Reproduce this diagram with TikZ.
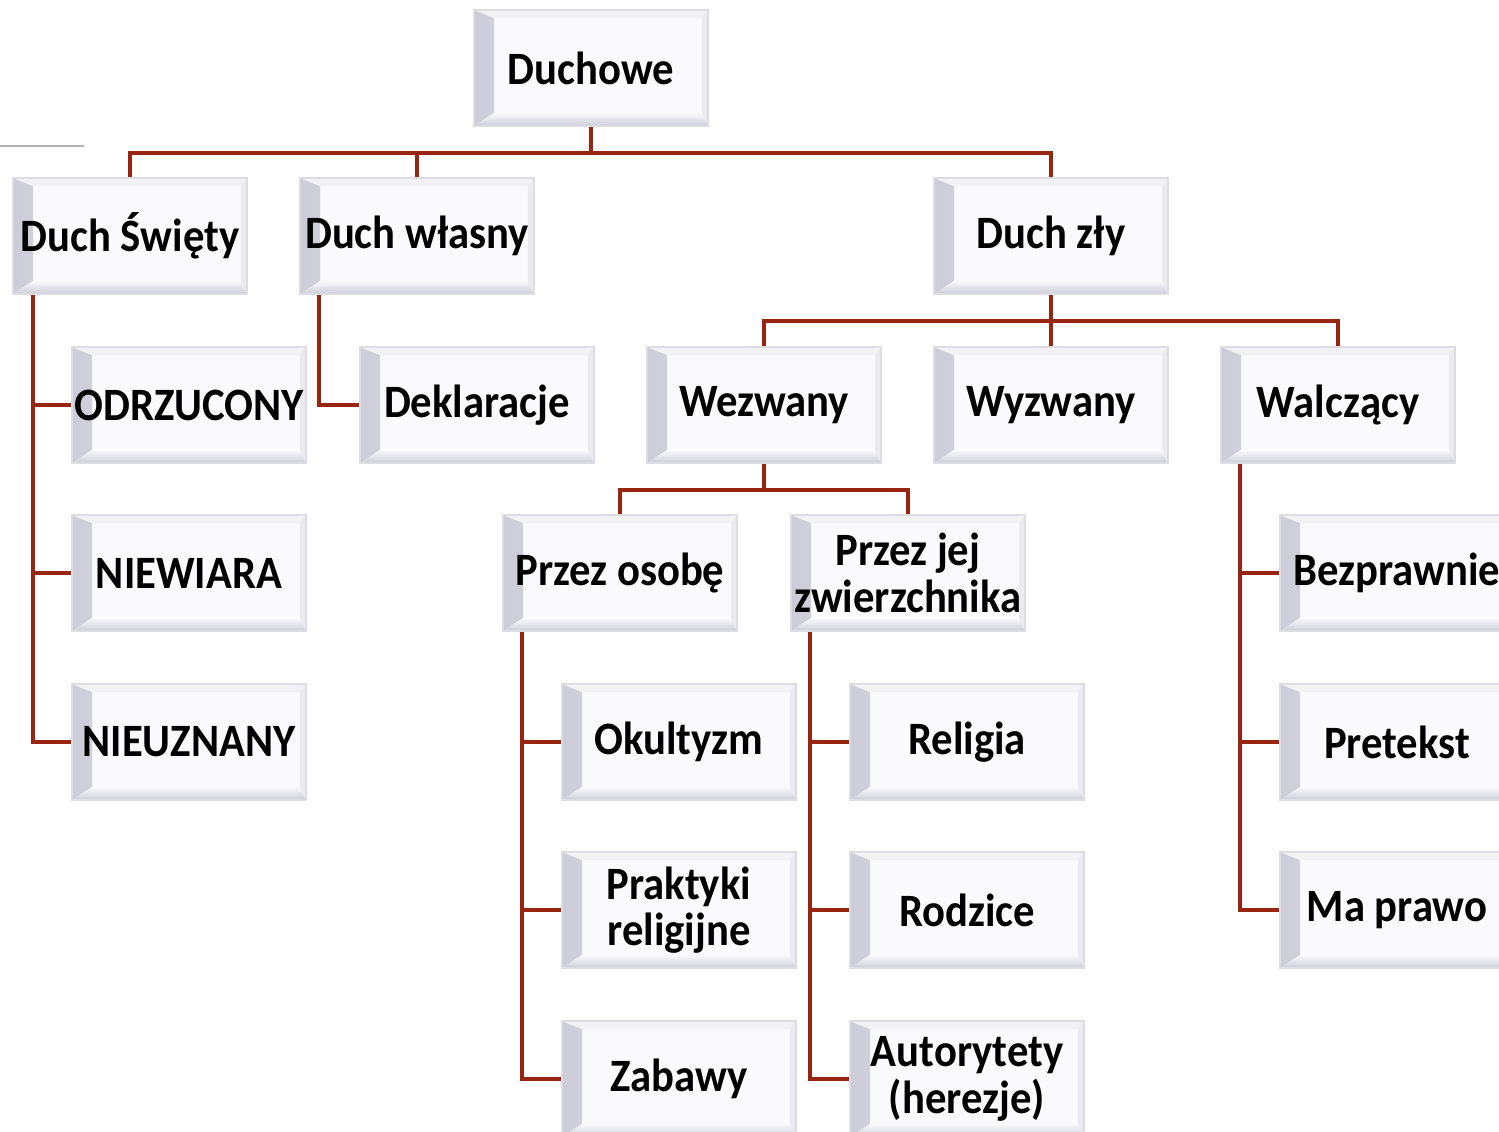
\documentclass[tikz,border=0pt]{standalone}
\usepackage{fontspec}
\setmainfont{Carlito}[FakeStretch=0.92]
\usetikzlibrary{positioning,calc}

\definecolor{lnred}{RGB}{152,36,18}
\definecolor{bev}{RGB}{204,204,216}
\definecolor{face}{RGB}{250,250,252}
\definecolor{rim}{RGB}{220,220,226}

\begin{document}
\begin{tikzpicture}[x=0.02cm, y=-0.02cm,
    box/.style={minimum width=4.68cm, minimum height=2.32cm, inner sep=0pt,
        align=center, fill=face, draw=rim, line width=1.2pt,
        font=\fontsize{26.4}{26.4}\selectfont\bfseries,
        path picture={
            \shade[left color=bev, right color=face]
                (path picture bounding box.south west) -- (path picture bounding box.north west)
                -- ([shift={(0.4cm,-0.16cm)}]path picture bounding box.north west)
                -- ([shift={(0.4cm,0.26cm)}]path picture bounding box.south west) -- cycle;
            \shade[bottom color=bev, top color=face]
                (path picture bounding box.south west) -- (path picture bounding box.south east)
                -- ([shift={(-0.12cm,0.26cm)}]path picture bounding box.south east)
                -- ([shift={(0.4cm,0.26cm)}]path picture bounding box.south west) -- cycle;
            \fill[bev!25]
                (path picture bounding box.north west) -- (path picture bounding box.north east)
                -- ([shift={(-0.12cm,-0.16cm)}]path picture bounding box.north east)
                -- ([shift={(0.4cm,-0.16cm)}]path picture bounding box.north west) -- cycle;
            \fill[bev!40]
                (path picture bounding box.north east) -- (path picture bounding box.south east)
                -- ([shift={(-0.12cm,0.26cm)}]path picture bounding box.south east)
                -- ([shift={(-0.12cm,-0.16cm)}]path picture bounding box.north east) -- cycle;
        }},
    conn/.style={draw=lnred, line width=2pt}]

    \useasboundingbox (0,0) rectangle (1499,1132);
    \clip (0,0) rectangle (1499,1132);

    % stray rule top left
    \draw[gray!60, line width=0.6pt] (0,146) -- (84,146);

    % level 0 and 1
    \node[box] (duchowe) at (591,68) {Duchowe};
    \node[box] (swiety) at (130,236) {Duch Święty};
    \node[box] (wlasny) at (417,236) {Duch własny};
    \node[box] (zly) at (1051,236) {Duch zły};

    % level 2
    \node[box] (odrzucony) at (189,405) {ODRZUCONY};
    \node[box] (deklaracje) at (477,405) {Deklaracje};
    \node[box] (wezwany) at (764,405) {Wezwany};
    \node[box] (wyzwany) at (1051,405) {Wyzwany};
    \node[box] (walczacy) at (1338,405) {Walczący};

    % level 3
    \node[box] (niewiara) at (189,573) {NIEWIARA};
    \node[box] (osoba) at (620,573) {Przez osobę};
    \node[box] (zwierzchnik) at (908,573) {Przez jej\\zwierzchnika};
    \node[box] (bezprawnie) at (1397,573) {Bezprawnie};

    % level 4
    \node[box] (nieuznany) at (189,742) {NIEUZNANY};
    \node[box] (okultyzm) at (679,742) {Okultyzm};
    \node[box] (religia) at (967,742) {Religia};
    \node[box] (pretekst) at (1397,742) {Pretekst};

    % level 5
    \node[box] (praktyki) at (679,910) {Praktyki\\religijne};
    \node[box] (rodzice) at (967,910) {Rodzice};
    \node[box] (maprawo) at (1397,910) {Ma prawo};

    % level 6
    \node[box] (zabawy) at (679,1079) {Zabawy};
    \node[box] (autorytety) at (967,1079) {Autorytety\\(herezje)};

    % buses
    \draw[conn] (duchowe.south) -- ++(0,26) coordinate (busA);
    \draw[conn] (swiety.north) |- (busA) -| (wlasny.north);
    \draw[conn] (busA) -| (zly.north);

    \draw[conn] (zly.south) -- (wyzwany.north);
    \coordinate (busB) at ($(zly.south)+(0,26)$);
    \draw[conn] (wezwany.north) |- (busB) -| (walczacy.north);

    \draw[conn] (wezwany.south) -- ++(0,26) coordinate (busC);
    \draw[conn] (osoba.north) |- (busC) -| (zwierzchnik.north);

    % side rails
    \coordinate (railA) at ([xshift=0.42cm]swiety.south west);
    \draw[conn] (railA) |- (odrzucony.west);
    \draw[conn] (railA) |- (niewiara.west);
    \draw[conn] (railA) |- (nieuznany.west);

    \coordinate (railB) at ([xshift=0.4cm]wlasny.south west);
    \draw[conn] (railB) |- (deklaracje.west);

    \coordinate (railC) at ([xshift=0.4cm]walczacy.south west);
    \draw[conn] (railC) |- (bezprawnie.west);
    \draw[conn] (railC) |- (pretekst.west);
    \draw[conn] (railC) |- (maprawo.west);

    \coordinate (railD) at ([xshift=0.4cm]osoba.south west);
    \draw[conn] (railD) |- (okultyzm.west);
    \draw[conn] (railD) |- (praktyki.west);
    \draw[conn] (railD) |- (zabawy.west);

    \coordinate (railE) at ([xshift=0.4cm]zwierzchnik.south west);
    \draw[conn] (railE) |- (religia.west);
    \draw[conn] (railE) |- (rodzice.west);
    \draw[conn] (railE) |- (autorytety.west);
\end{tikzpicture}
\end{document}
